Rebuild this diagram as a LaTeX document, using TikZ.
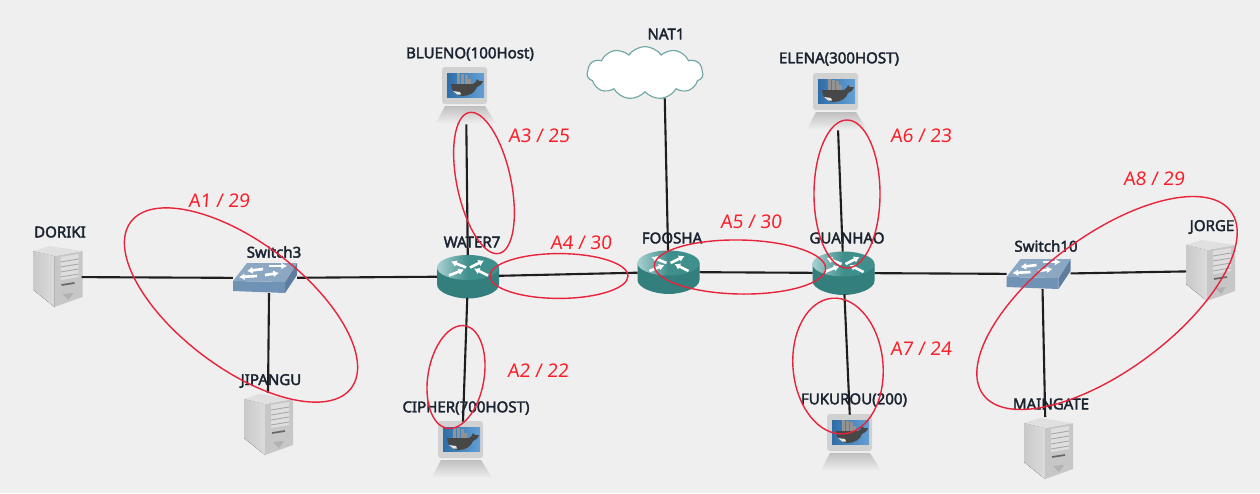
\documentclass[tikz,border=0pt]{standalone}
\usepackage{fontspec}
\setmainfont{Noto Sans}
\newfontfamily\devfont{Noto Sans}[FakeBold=2.4]
\newfontfamily\zonefont{Noto Sans}[FakeSlant=0.08]
\usetikzlibrary{shapes.geometric,shapes.symbols,arrows.meta}

\definecolor{pagebg}{HTML}{EFEFEF}
\definecolor{linkcol}{HTML}{1E1E1E}
\definecolor{zonecol}{HTML}{E8243C}
\definecolor{zonetext}{HTML}{FA1E28}
\definecolor{textcol}{HTML}{1A2330}
\definecolor{routerdark}{HTML}{327F7E}
\definecolor{routermid}{HTML}{3F8F8D}
\definecolor{routerlight}{HTML}{A9D0D0}
\definecolor{switchtop}{HTML}{8CA7C2}
\definecolor{switchfront}{HTML}{7093B5}
\definecolor{switchside}{HTML}{5F7D9F}
\definecolor{screenblue}{HTML}{2F6DA8}
\definecolor{screenlight}{HTML}{62A0D4}

\tikzset{
    netdev/.style={inner sep=0pt, outer sep=0pt},
    servernode/.style={netdev, minimum width=1.2cm, minimum height=1.6cm},
    switchnode/.style={netdev, minimum width=1.6cm, minimum height=0.75cm},
    routernode/.style={netdev, minimum width=1.55cm, minimum height=1.07cm},
    hostnode/.style={netdev, minimum width=1.58cm, minimum height=1.42cm},
    devlabel/.style={font=\devfont\fontsize{10.7}{12}\selectfont, text=textcol, inner sep=0pt},
    zone/.style={draw=zonecol, line width=1pt, ellipse, inner sep=0pt},
    zonelabel/.style={font=\zonefont\fontsize{13.4}{15}\selectfont, text=zonetext, inner sep=0pt},
    link/.style={draw=linkcol, line width=1.5pt},
    whitearrow/.style={draw=white, line width=1.9pt, -{Latex[length=4pt,width=5pt]}},
    serverpic/.pic={
        \fill[left color=gray!42, right color=gray!28] (-24,-26) -- (-3,-21) -- (-3,30) -- (-24,13) -- cycle;
        \fill[gray!44] (-3,-21) -- (25,-26) -- (25,20) -- (-3,30) -- cycle;
        \fill[gray!24] (-24,-26) -- (-8,-31) -- (25,-26) -- (-3,-21) -- cycle;
        \fill[gray!26] (3,-20) -- (21,-23) -- (21,0) -- (3,3) -- cycle;
        \foreach \r in {-15,-10,-5,0}
            \draw[gray!70, line width=0.6pt] (3,\r) -- (21,\r-3);
        \draw[gray!80!black, line width=1.2pt] (4,8) -- (17,6);
        \fill[gray!60] (5,17) -- (16,16) -- (11,23) -- cycle;
    },
    switchpic/.pic={
        \fill[switchside] (32,-15) -- (32,-3) -- (20,15) -- (20,4) -- cycle;
        \fill[switchfront] (-32,3) -- (20,4) -- (20,15) -- (-32,13) -- cycle;
        \fill[switchtop] (-18,-15) -- (32,-15) -- (20,4) -- (-32,3) -- cycle;
        \draw[whitearrow] (-2,-9) -- (-18,-7);
        \draw[whitearrow] (4,-12) -- (22,-12);
        \draw[whitearrow] (-8,-2) -- (-26,-1);
        \draw[whitearrow] (0,-3) -- (14,-5);
    },
    routerpic/.pic={
        \fill[routerdark] (-31,-9) -- (-31,8) .. controls (-31,16) and (-14,22) .. (0,22)
            .. controls (14,22) and (31,16) .. (31,8) -- (31,-9) -- cycle;
        \shade[left color=routerlight, right color=routermid, middle color=routermid] (0,-9) ellipse [x radius=31, y radius=12.5];
        \draw[whitearrow] (-2,-9) -- (-17,-15);
        \draw[whitearrow] (2,-9) -- (16,-16);
        \draw[whitearrow] (-19,-1) -- (-4,-7);
        \draw[whitearrow] (20,-1) -- (6,-8);
    },
    hostpic/.pic={
        \shade[top color=gray!50, bottom color=gray!10] (-21,10) -- (19,10) -- (31,29) -- (-31,29) -- cycle;
        \fill[gray!36, rounded corners=2pt] (-24,-29) rectangle (21,8);
        \shade[left color=screenblue, right color=screenlight] (-19,-23) rectangle (18,1);
        \foreach \c in {-9,-5,-1}
            \fill[gray!85] (\c,-21+\c/4) rectangle (\c+3.4,-11);
        \fill[gray!85] (2,-17) rectangle (5,-11);
        \fill[black!72] (-15,-12) -- (7,-12) .. controls (9,-12) and (10,-15) .. (11,-17)
            .. controls (13,-14) and (15,-15) .. (17,-15) .. controls (16,-11) and (13,-10) .. (11,-9)
            .. controls (9,-3) and (3,0) .. (-4,0) .. controls (-11,0) and (-15,-6) .. cycle;
        \fill[gray!20] (-13,-5) -- (-6,-4) -- (-5,-1.5) -- (-9,-1.5) -- cycle;
    }
}

\begin{document}
\begin{tikzpicture}[x=0.025cm, y=-0.025cm]

    % Page
    \fill[pagebg] (0,0) rectangle (1260,493);
    \useasboundingbox (0,0) rectangle (1260,493);

    % Routers
    \node[routernode] (water7) at (468,276.5) {};
    \node[routernode] (foosha) at (668.5,272) {};
    \node[routernode] (guanhao) at (843.5,273) {};
    \pic at (water7) {routerpic};
    \pic at (foosha) {routerpic};
    \pic at (guanhao) {routerpic};

    % Switches
    \node[switchnode] (switch3) at (265,278) {};
    \node[switchnode] (switch10) at (1038.5,274) {};
    \pic at (switch3) {switchpic};
    \pic at (switch10) {switchpic};

    % Servers
    \node[servernode] (doriki) at (57.5,277) {};
    \node[servernode] (jipangu) at (268,425) {};
    \node[servernode] (jorge) at (1210,271) {};
    \node[servernode] (maingate) at (1048,449) {};
    \pic at (doriki) {serverpic};
    \pic at (jipangu) {serverpic};
    \pic at (jorge) {serverpic};
    \pic at (maingate) {serverpic};

    % Docker hosts
    \node[hostnode] (blueno) at (466,96) {};
    \node[hostnode] (cipher) at (462,450) {};
    \node[hostnode] (elena) at (837,102) {};
    \node[hostnode] (fukurou) at (851,443) {};
    \pic at (blueno) {hostpic};
    \pic at (cipher) {hostpic};
    \pic at (elena) {hostpic};
    \pic at (fukurou) {hostpic};

    % Internet cloud
    \node[cloud, cloud puffs=11, cloud puff arc=110, aspect=2.2, draw=routerdark!70, fill=white,
        line width=0.8pt, minimum width=2.9cm, minimum height=1.32cm, inner sep=0pt] (nat1) at (645,73) {};

    % Links
    \draw[link] (doriki) -- (switch3);
    \draw[link] (switch3) -- (water7);
    \draw[link] (switch3.-75) -- (jipangu.north);
    \draw[link] (water7) -- (foosha);
    \draw[link] (foosha) -- (guanhao);
    \draw[link] (guanhao) -- (switch10);
    \draw[link] (switch10) -- (jorge);
    \draw[link] (switch10.-75) -- (maingate.95);
    \draw[link] (blueno) -- (water7);
    \draw[link] (water7) -- (cipher);
    \draw[link] (nat1.-52) -- (foosha);
    \draw[link] (elena) -- (guanhao);
    \draw[link] (guanhao) -- (fukurou);

    % Device names
    \node[devlabel] (doriki label) at (60,232) {DORIKI};
    \node[devlabel] (switch3 label) at (274,252) {Switch3};
    \node[devlabel] (jipangu label) at (271,381) {JIPANGU};
    \node[devlabel] (blueno label) at (470,54) {BLUENO(100Host)};
    \node[devlabel] (cipher label) at (466,408) {CIPHER(700HOST)};
    \node[devlabel] (water7 label) at (472,242) {WATER7};
    \node[devlabel] (foosha label) at (672,238) {FOOSHA};
    \node[devlabel] (guanhao label) at (847,238) {GUANHAO};
    \node[devlabel] (nat1 label) at (666,34) {NAT1};
    \node[devlabel] (elena label) at (839,59) {ELENA(300HOST)};
    \node[devlabel] (fukurou label) at (854,400) {FUKUROU(200)};
    \node[devlabel] (switch10 label) at (1046,246) {Switch10};
    \node[devlabel] (jorge label) at (1212,227) {JORGE};
    \node[devlabel] (maingate label) at (1051,404) {MAINGATE};

    % Subnet rings
    \node[zone, minimum width=6.9cm, minimum height=3.15cm, rotate=-37] (a1) at (241,305) {};
    \node[zone, minimum width=3.6cm, minimum height=1.35cm, rotate=-78] (a3) at (484,183) {};
    \node[zone, minimum width=2.6cm, minimum height=1.4cm, rotate=80] (a2) at (456,377) {};
    \node[zone, minimum width=3.45cm, minimum height=1.12cm] (a4) at (559,276) {};
    \node[zone, minimum width=4.28cm, minimum height=1.35cm, rotate=-1] (a5) at (740,267) {};
    \node[zone, minimum width=3.7cm, minimum height=1.65cm, rotate=90] (a6) at (847,194) {};
    \node[zone, minimum width=3.4cm, minimum height=2.25cm, rotate=-85] (a7) at (838,366) {};
    \node[zone, minimum width=7.7cm, minimum height=3.375cm, rotate=36.5] (a8) at (1107,303) {};

    % Subnet labels
    \node[zonelabel] (a1 label) at (219,201) {A1 / 29};
    \node[zonelabel] (a2 label) at (538,371) {A2 / 22};
    \node[zonelabel] (a3 label) at (539,136) {A3 / 25};
    \node[zonelabel] (a4 label) at (581,243) {A4 / 30};
    \node[zonelabel] (a5 label) at (751,222) {A5 / 30};
    \node[zonelabel] (a6 label) at (921,136) {A6 / 23};
    \node[zonelabel] (a7 label) at (921,349) {A7 / 24};
    \node[zonelabel] (a8 label) at (1154,179) {A8 / 29};

\end{tikzpicture}
\end{document}
